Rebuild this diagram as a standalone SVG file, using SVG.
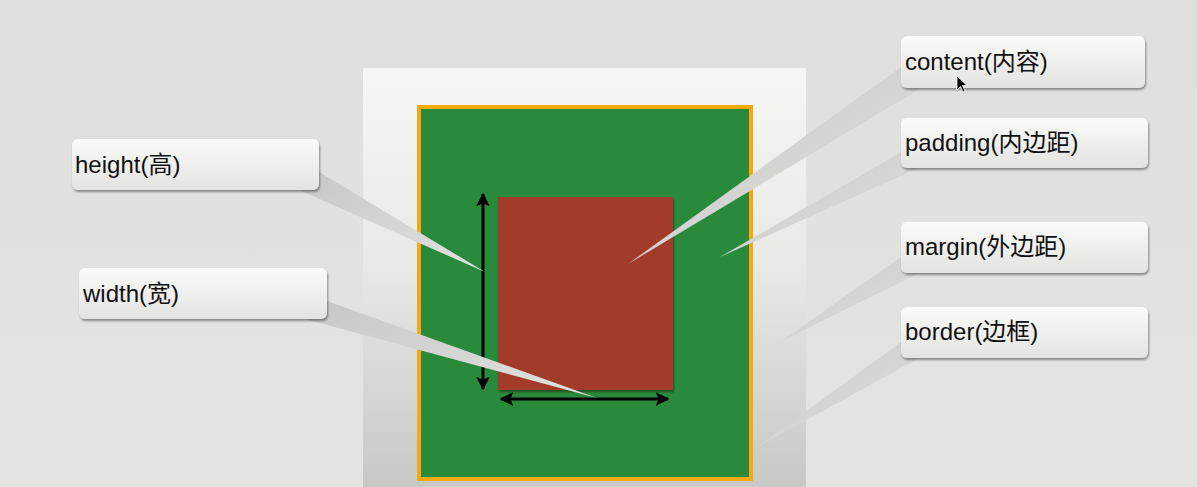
<svg xmlns="http://www.w3.org/2000/svg" width="1197" height="487" viewBox="0 0 1197 487">
<defs>
<linearGradient id="bg" x1="0" y1="0" x2="0" y2="1"><stop offset="0" stop-color="#dfdfdc"/><stop offset="1" stop-color="#e4e4e2"/></linearGradient>
<linearGradient id="mg" x1="0" y1="0" x2="0" y2="1"><stop offset="0" stop-color="#f6f6f4"/><stop offset="0.45" stop-color="#e9e9e7"/><stop offset="1" stop-color="#c6c6c4"/></linearGradient>
<linearGradient id="cb" x1="0" y1="0" x2="0" y2="1"><stop offset="0" stop-color="#fbfbfa"/><stop offset="1" stop-color="#e3e3e1"/></linearGradient>
<linearGradient id="wg" x1="0" y1="0" x2="1" y2="1"><stop offset="0" stop-color="#c6c6c4"/><stop offset="1" stop-color="#e2e2e0"/></linearGradient>
<filter id="sh" x="-10%" y="-20%" width="120%" height="150%"><feDropShadow dx="1" dy="2" stdDeviation="1.2" flood-color="#000" flood-opacity="0.4"/></filter>
<marker id="ah" viewBox="0 0 10 10" refX="9" refY="5" markerWidth="4.5" markerHeight="4.5" orient="auto-start-reverse"><path d="M0,0 L10,5 L0,10 L2,5 z" fill="#000"/></marker>
</defs>
<style>
.box{fill:url(#cb);filter:url(#sh)}
.lbl{font-family:"Liberation Sans","Noto Sans CJK SC",Arial,sans-serif;font-size:24px;fill:#111}
.wedge{fill:url(#wg)}
.arr{stroke:#000;stroke-width:3;fill:none;marker-start:url(#ah);marker-end:url(#ah)}
</style>
<rect x="0" y="0" width="1197" height="487" fill="url(#bg)"/>
<g id="margin-box"><rect x="363" y="68" width="443" height="430" fill="url(#mg)"/></g>
<g id="border-box"><rect x="419" y="107" width="332" height="372" fill="#2a8a3b" stroke="#f6a80c" stroke-width="4"/></g>
<g id="content-box"><rect x="498" y="197" width="175" height="193" fill="#a33b2b" style="filter:url(#sh)"/></g>
<g id="connectors">
<line class="arr" x1="483" y1="194" x2="483" y2="389"/>
<line class="arr" x1="501" y1="399" x2="668" y2="399"/>
<polygon class="wedge" points="290,186 319,172 485,272"/>
<polygon class="wedge" points="290,315 327,301 597,398"/>
<polygon class="wedge" points="908,62 928,84 628,264"/>
<polygon class="wedge" points="905,150 925,165 720,257"/>
<polygon class="wedge" points="908,252 925,270 780,342"/>
<polygon class="wedge" points="908,337 925,355 757,447"/>
</g>
<g id="height"><rect class="box" x="72" y="139" width="247" height="51" rx="6"/><text class="lbl" x="75" y="173">height(高)</text></g>
<g id="width"><rect class="box" x="79" y="268" width="248" height="51" rx="6"/><text class="lbl" x="83" y="302">width(宽)</text></g>
<g id="content"><rect class="box" x="901" y="36" width="244" height="52" rx="6"/><text class="lbl" x="905" y="70">content(内容)</text></g>
<g id="padding"><rect class="box" x="901" y="118" width="247" height="50" rx="6"/><text class="lbl" x="905" y="151">padding(内边距)</text></g>
<g id="margin"><rect class="box" x="901" y="222" width="247" height="51" rx="6"/><text class="lbl" x="905" y="255">margin(外边距)</text></g>
<g id="border"><rect class="box" x="901" y="307" width="247" height="51" rx="6"/><text class="lbl" x="905" y="340">border(边框)</text></g>
<g id="cursor"><path d="M957,76 L957,90 L960.5,86.5 L963,92 L965,91 L962.5,85.5 L967,85.5 Z" fill="#000" stroke="#fff" stroke-width="0.8"/></g>
</svg>
